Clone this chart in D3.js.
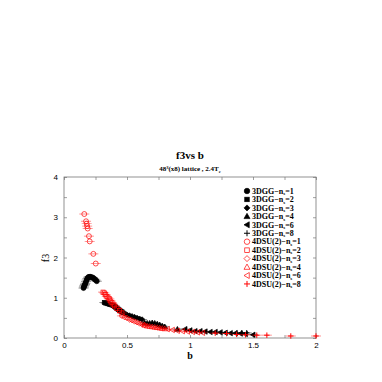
<!DOCTYPE html>
<html><head><meta charset="utf-8">
<script src="https://cdn.jsdelivr.net/npm/d3@7"></script>
<style>body{margin:0;background:#fff}svg{display:block}</style>
</head><body><svg id="c" width="382" height="382"></svg>
<script>
// ---- data ----
const xTicks = [0, 0.5, 1, 1.5, 2];
const yTicks = [0, 1, 2, 3, 4];
const seriesNames = ["3DGG\u2212n","3DGG\u2212n","3DGG\u2212n","3DGG\u2212n","3DGG\u2212n","3DGG\u2212n",
  "4DSU(2)\u2212n","4DSU(2)\u2212n","4DSU(2)\u2212n","4DSU(2)\u2212n","4DSU(2)\u2212n","4DSU(2)\u2212n"];
const seriesN = [1,2,3,4,6,8,1,2,3,4,6,8];

const gg1_b = [0.155,0.158,0.162,0.166,0.17,0.175,0.18,0.186,0.192,0.2,0.21,0.22,0.23,0.24,0.25,0.26];
const gg1_f = [1.24,1.27,1.3,1.33,1.36,1.4,1.44,1.48,1.51,1.52,1.52,1.51,1.5,1.47,1.44,1.41];
const gg2_b = [0.32,0.33,0.34,0.35,0.36,0.37,0.38,0.39,0.4,0.41,0.42,0.43,0.44,0.45,0.46];
const gg2_f = [0.88,0.87,0.86,0.85,0.84,0.83,0.82,0.81,0.79,0.77,0.74,0.71,0.69,0.67,0.65];
const gg3_b = [0.46,0.48,0.5,0.52,0.54,0.56,0.58,0.6,0.62];
const gg3_f = [0.64,0.61,0.58,0.56,0.54,0.52,0.5,0.48,0.46];
const gg4_b = [0.64,0.66,0.68,0.7,0.72,0.74,0.76,0.78,0.8,0.9];
const gg4_f = [0.38,0.37,0.37,0.38,0.37,0.35,0.33,0.3,0.28,0.22];
const gg6_b = [0.96,1.0,1.04,1.08,1.12,1.16,1.2,1.24,1.28,1.32,1.36,1.4,1.44,1.5];
const gg6_f = [0.22,0.19,0.17,0.17,0.16,0.15,0.15,0.14,0.13,0.12,0.12,0.11,0.1,0.08];
const gg8_b = [1.37,1.41,1.45];
const gg8_f = [0.12,0.13,0.13];

const su1_b = [0.161,0.175,0.18,0.184,0.188,0.198,0.204,0.233,0.252];
const su1_f = [3.08,2.9,2.84,2.78,2.72,2.53,2.4,2.09,1.85];
const su2_b = [0.31,0.32,0.33,0.34,0.35,0.36,0.37,0.38,0.39,0.4,0.42,0.44,0.46];
const su2_f = [1.14,1.12,1.08,1.03,1.0,0.97,0.92,0.88,0.84,0.8,0.74,0.68,0.62];
const su3_b = [0.46,0.48,0.5,0.52,0.54,0.56,0.58,0.6,0.62,0.64];
const su3_f = [0.55,0.52,0.5,0.46,0.44,0.41,0.39,0.36,0.34,0.32];
const su4_b = [0.64,0.66,0.68,0.7,0.72,0.74,0.76,0.78,0.8];
const su4_f = [0.32,0.3,0.29,0.28,0.27,0.26,0.25,0.24,0.23];
const su6_b = [0.82,0.86,0.9,0.94,0.98,1.02,1.06,1.1];
const su6_f = [0.22,0.2,0.18,0.17,0.16,0.15,0.14,0.13];
const su8_b = [1.2,1.29,1.37,1.44,1.53,1.61,1.8,2.0];
const su8_f = [0.12,0.11,0.09,0.08,0.07,0.07,0.05,0.05];

const allB = [gg1_b,gg2_b,gg3_b,gg4_b,gg6_b,gg8_b,su1_b,su2_b,su3_b,su4_b,su6_b,su8_b];
const allF = [gg1_f,gg2_f,gg3_f,gg4_f,gg6_f,gg8_f,su1_f,su2_f,su3_f,su4_f,su6_f,su8_f];
const shapes = ["circle","square","diamond","tri","ltri","plus","circle","square","diamond","tri","ltri","plus"];
const filled = [true,true,true,true,true,false,false,false,false,false,false,false];
const colors = ["#000","#000","#000","#000","#000","#000","#f00","#f00","#f00","#f00","#f00","#f00"];

// ---- layout ----
const svg = d3.select("#c");
const L=64,R=316,T=177,B=338;
const x = d3.scaleLinear().domain([0,2]).range([L,R]);
const y = d3.scaleLinear().domain([0,4]).range([B,T]);

// frame
svg.append("rect").attr("x",L).attr("y",T).attr("width",R-L).attr("height",B-T)
  .attr("fill","none").attr("stroke","#777").attr("stroke-width",0.8);

const tk = 3;
const axStyle = g=>{g.select(".domain").remove();g.selectAll("line").attr("stroke","#777").attr("stroke-width",0.7);
  g.selectAll("text").attr("font-family","'Liberation Sans',Arial,sans-serif").attr("font-size",8).attr("fill","#000");};
const xMinor = d3.range(0,2.001,0.25);
const yMinor = d3.range(0,4.001,0.5);
svg.append("g").attr("transform",`translate(0,${B})`)
  .call(d3.axisBottom(x).tickValues(xMinor).tickSize(-tk).tickPadding(4)
    .tickFormat(d=>xTicks.includes(d)?d3.format("")(d):"")).call(axStyle);
svg.append("g").attr("transform",`translate(0,${T})`)
  .call(d3.axisTop(x).tickValues(xMinor).tickSize(-tk).tickFormat("")).call(axStyle);
svg.append("g").attr("transform",`translate(${L},0)`)
  .call(d3.axisLeft(y).tickValues(yMinor).tickSize(-tk).tickPadding(6)
    .tickFormat(d=>yTicks.includes(d)?d3.format("")(d):"")).call(axStyle);
svg.append("g").attr("transform",`translate(${R},0)`)
  .call(d3.axisRight(y).tickValues(yMinor).tickSize(-tk).tickFormat("")).call(axStyle);

// titles
const serif = "'Liberation Serif','Times New Roman',serif";
svg.append("text").attr("x",190).attr("y",159).attr("text-anchor","middle")
  .attr("font-family",serif).attr("font-weight","bold").attr("font-size",11).text("f3vs b");
const st = svg.append("text").attr("x",190).attr("y",171).attr("text-anchor","middle")
  .attr("font-family",serif).attr("font-weight","bold").attr("font-size",7);
st.append("tspan").text("48");
st.append("tspan").attr("dy",-2.5).attr("font-size",4.5).text("3");
st.append("tspan").attr("dy",2.5).text("(x8) lattice , 2.4T");
st.append("tspan").attr("dy",1.5).attr("font-size",4.5).text("c");
svg.append("text").attr("x",190).attr("y",359).attr("text-anchor","middle")
  .attr("font-family",serif).attr("font-weight","bold").attr("font-size",10).text("b");
svg.append("text").attr("transform","translate(49,258) rotate(-90)").attr("text-anchor","middle")
  .attr("font-family",serif).attr("font-size",10).text("f3");

// markers
function marker(g, shape, cx, cy, col, fill, s){
  const f = fill?col:"none";
  if(shape==="circle") g.append("circle").attr("cx",cx).attr("cy",cy).attr("r",s*0.55).attr("fill",fill?col:"none").attr("stroke",col).attr("stroke-width",0.7);
  else if(shape==="square") g.append("rect").attr("x",cx-s*0.45).attr("y",cy-s*0.45).attr("width",s*0.9).attr("height",s*0.9).attr("fill",f).attr("stroke",col).attr("stroke-width",0.7);
  else if(shape==="diamond") g.append("path").attr("d",`M${cx},${cy-s*0.6}L${cx+s*0.6},${cy}L${cx},${cy+s*0.6}L${cx-s*0.6},${cy}Z`).attr("fill",f).attr("stroke",col).attr("stroke-width",0.7);
  else if(shape==="tri") g.append("path").attr("d",`M${cx},${cy-s*0.6}L${cx+s*0.6},${cy+s*0.45}L${cx-s*0.6},${cy+s*0.45}Z`).attr("fill",f).attr("stroke",col).attr("stroke-width",0.7);
  else if(shape==="ltri") g.append("path").attr("d",`M${cx-s*0.6},${cy}L${cx+s*0.45},${cy-s*0.6}L${cx+s*0.45},${cy+s*0.6}Z`).attr("fill",f).attr("stroke",col).attr("stroke-width",0.7);
  else if(shape==="plus") g.append("path").attr("d",`M${cx-s*0.6},${cy}H${cx+s*0.6}M${cx},${cy-s*0.6}V${cy+s*0.6}`).attr("fill","none").attr("stroke",col).attr("stroke-width",1);
}
const pg = svg.append("g");
allB.forEach((bs,i)=>{
  bs.forEach((b,j)=>{
    const cx=x(b), cy=y(allF[i][j]);
    pg.append("line").attr("x1",cx-5).attr("x2",cx+5).attr("y1",cy).attr("y2",cy)
      .attr("stroke",colors[i]).attr("stroke-width",0.6).attr("opacity",0.7);
    marker(pg, shapes[i], cx, cy, colors[i], filled[i], 4.5);
  });
});

// legend
const lg = svg.append("g");
seriesNames.forEach((n,i)=>{
  const ly = 191 + i*8.45;
  marker(lg, shapes[i], 247, ly, colors[i], filled[i], 5);
  const t = lg.append("text").attr("x",252).attr("y",ly+2.7).attr("font-family",serif)
    .attr("font-weight","bold").attr("font-size",8);
  t.append("tspan").text(n);
  t.append("tspan").attr("dy",1.5).attr("font-size",5).text("s");
  t.append("tspan").attr("dy",-1.5).text("="+seriesN[i]);
});
</script></body></html>
